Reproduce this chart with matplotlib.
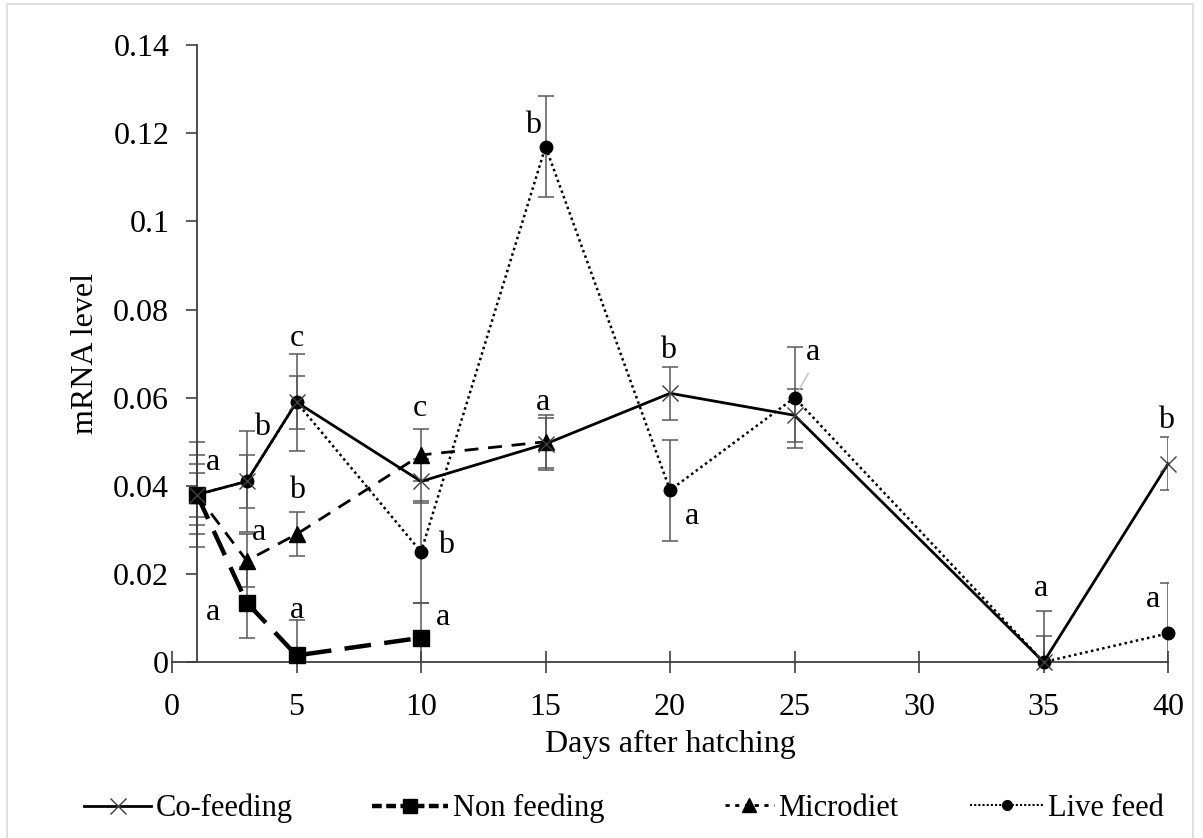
import matplotlib
matplotlib.use("Agg")
import matplotlib.pyplot as plt
from matplotlib.patches import Rectangle
from matplotlib.lines import Line2D

plt.rcParams['font.family'] = ['Liberation Serif', 'DejaVu Serif']

# sampling days and mean relative mRNA levels per feeding regime
cofeed_days = [1, 3, 5, 10, 15, 20, 25, 35, 40]
cofeed = [0.038, 0.041, 0.059, 0.041, 0.0495, 0.061, 0.056, 0.0, 0.045]
cofeed_err = [0.009, 0.006, 0.011, 0.005, 0.006, 0.006, 0.006, 0.006, 0.006]

nonfeed_days = [1, 3, 5, 10]
nonfeed = [0.038, 0.0135, 0.0015, 0.0055]
nonfeed_err = [0.005, 0.008, 0.008, 0.008]

micro_days = [1, 3, 5, 10, 15]
micro = [0.038, 0.023, 0.029, 0.047, 0.050]
micro_err = [0.007, 0.006, 0.005, 0.006, 0.006]

live_days = [1, 3, 5, 10, 15, 20, 25, 35, 40]
live = [0.038, 0.041, 0.059, 0.025, 0.117, 0.039, 0.060, 0.0, 0.0065]
live_err = [0.012, 0.0115, 0.006, 0.0115, 0.0115, 0.0115, 0.0115, 0.0115, 0.0115]

# significance letters (day, level, letter)
sig_x = [1.65, 3.6, 3.5, 1.65, 5.0, 5.0, 5.0, 9.96, 11.0, 10.9,
         14.5, 14.9, 19.9, 20.9, 25.74, 34.9, 39.9, 39.4]
sig_y = [0.0454, 0.0533, 0.0295, 0.0113, 0.0735, 0.039, 0.0118, 0.0576, 0.0265, 0.0102,
         0.1218, 0.059, 0.0708, 0.033, 0.0703, 0.0168, 0.0549, 0.0141]
sig_txt = ["a", "b", "a", "a", "c", "b", "a", "c", "b", "a",
           "b", "a", "b", "a", "a", "a", "b", "a"]

yticks = [0, 0.02, 0.04, 0.06, 0.08, 0.1, 0.12, 0.14]
ytick_labels = ["0", "0.02", "0.04", "0.06", "0.08", "0.1", "0.12", "0.14"]
xticks = [0, 5, 10, 15, 20, 25, 30, 35, 40]

FS = 23

fig = plt.figure(figsize=(12.03, 8.38), dpi=100)
ax = fig.add_axes([0.143, 0.210, 0.828, 0.736])

# error bars first, drawn thin and grey behind the lines
err_style = dict(fmt="none", ecolor="#595959", elinewidth=1.1, capsize=6, capthick=1.1, zorder=1)
for d, v, e in [(cofeed_days, cofeed, cofeed_err), (nonfeed_days, nonfeed, nonfeed_err),
                (micro_days, micro, micro_err), (live_days, live, live_err)]:
    ax.errorbar(d, v, yerr=e, **err_style)

ax.plot(live_days, live, color="black", lw=1.8, ls=(0, (1, 1.3)), marker="o", ms=9,
        clip_on=False, zorder=3)
ax.plot(micro_days, micro, color="black", lw=2.0, ls=(0, (5, 3.5)), marker="^", ms=11,
        clip_on=False, zorder=3)
ax.plot(nonfeed_days, nonfeed, color="black", lw=3.2, ls=(0, (6, 3)), marker="s", ms=11,
        clip_on=False, zorder=4)
ax.plot(cofeed_days, cofeed, color="black", lw=2.0, ls="-", marker="x", ms=12, mew=1.0,
        mec="#404040", clip_on=False, zorder=4)

for x, y, t in zip(sig_x, sig_y, sig_txt):
    ax.text(x, y, t, fontsize=FS, ha="center", va="center", zorder=5)

# leader line for the day-25 letter
ax.plot([25.55, 25.05], [0.0655, 0.0605], color="#bfbfbf", lw=1, zorder=2)

ax.set_xlim(0, 40)
ax.set_ylim(0, 0.14)
ax.spines["left"].set_position(("data", 1))
ax.spines["top"].set_visible(False)
ax.spines["right"].set_visible(False)
for s in ("left", "bottom"):
    ax.spines[s].set_color("#404040")
    ax.spines[s].set_linewidth(1.3)

ax.set_yticks(yticks)
ax.set_yticklabels(ytick_labels)
ax.set_xticks(xticks)
ax.tick_params(axis="y", direction="out", length=8, width=1.2, color="#404040",
               labelsize=FS, pad=12)
ax.tick_params(axis="x", direction="inout", length=16, width=1.2, color="#404040",
               labelsize=FS, pad=14)

ax.set_xlabel("Days after hatching", fontsize=FS, labelpad=6)
ax.set_ylabel("mRNA level", fontsize=FS)
ax.yaxis.set_label_coords(-0.072, 0.5)

# legend entries placed individually along the bottom
legend_items = [
    ("Co-feeding", Line2D([], [], color="black", lw=2.0, marker="x", ms=11, mew=1.0, mec="#404040"), 84, 2.2),
    ("Non feeding", Line2D([], [], color="black", lw=3.2, ls=(0, (2.2, 1)), marker="s", ms=10), 372, 2.5),
    ("Microdiet", Line2D([], [], color="black", lw=2.0, ls=(0, (1.5, 2)), marker="^", ms=10), 725, 1.6),
    ("Live feed", Line2D([], [], color="black", lw=1.5, ls=(0, (1, 1)), marker="o", ms=7), 970, 2.4),
]
for label, handle, x0, hl in legend_items:
    fig.legend([handle], [label], loc="center left", bbox_to_anchor=(x0 / 1203, 0.035),
               frameon=False, fontsize=22, handlelength=hl, handletextpad=0.15,
               borderpad=0, borderaxespad=0)

# light frame around the chart area
fig.patches.append(Rectangle((0.006, -0.02), 0.986, 1.015, transform=fig.transFigure,
                             fill=False, edgecolor="#d9d9d9", lw=1.2))

fig.savefig("out.png", dpi=100)
